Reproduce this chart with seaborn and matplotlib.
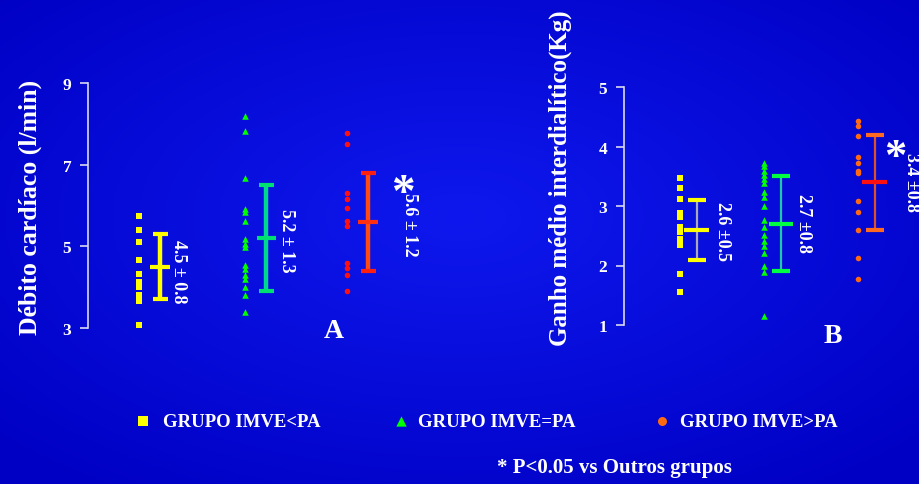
import numpy as np
import pandas as pd
import matplotlib
matplotlib.use("Agg")
import matplotlib.pyplot as plt
import seaborn as sns

sns.set_theme(style="white")
plt.rcParams["font.family"] = ["Liberation Serif", "DejaVu Serif"]
plt.rcParams["font.weight"] = "bold"

# ---- data -------------------------------------------------------------
groups = ["GRUPO IMVE<PA", "GRUPO IMVE=PA", "GRUPO IMVE>PA"]

# Débito cardíaco (l/min)
dc_lt = [5.75, 5.41, 5.11, 4.67, 4.32, 4.13, 4.00, 3.82, 3.65, 3.08]
dc_eq = [8.20, 7.83, 6.68, 5.92, 5.84, 5.63, 5.19, 5.06, 4.98, 4.55,
         4.45, 4.29, 4.20, 4.00, 3.80, 3.39]
dc_gt = [7.78, 7.51, 6.30, 6.15, 5.94, 5.61, 5.51, 4.60, 4.47, 4.30, 3.90]
dc_mean = [4.5, 5.2, 5.6]
dc_sd = [0.8, 1.3, 1.2]
dc_labels = ["4.5 ± 0.8", "5.2 ± 1.3", "5.6 ± 1.2"]

# Ganho médio interdialítico (Kg)
gp_lt = [3.47, 3.30, 3.11, 2.89, 2.81, 2.64, 2.56, 2.45, 2.34, 1.85, 1.55]
gp_eq = [3.73, 3.68, 3.58, 3.52, 3.45, 3.38, 3.24, 3.15, 3.00, 2.77,
         2.64, 2.52, 2.42, 2.33, 2.21, 1.99, 1.89, 1.15]
gp_gt = [4.43, 4.34, 4.18, 3.82, 3.73, 3.59, 3.55, 3.09, 2.90, 2.60,
         2.13, 1.78]
gp_mean = [2.6, 2.7, 3.4]
gp_sd = [0.5, 0.8, 0.8]
gp_labels = ["2.6 ±0.5", "2.7 ±0.8", "3.4 ±0.8"]

# ---- styling ----------------------------------------------------------
W, H = 920, 485
marker_shapes = ["s", "^", "o"]
A_point_colors = ["#ffff00", "#00ff00", "#ff1010"]
A_bar_colors = ["#ffff00", "#00d890", "#ff4a10"]
A_cap_colors = ["#ffff00", "#00e070", "#ff2010"]
A_mean_colors = ["#ffff00", "#00e070", "#ff3010"]
B_point_colors = ["#ffff00", "#00ff00", "#ff6a10"]
B_bar_colors = ["#a8a8b8", "#20c8a8", "#e05028"]
B_cap_colors = ["#ffff00", "#00ff40", "#ff6a20"]
B_mean_colors = ["#ffff00", "#00ff40", "#ff1010"]
TXT = "white"
AXC = "#d8d8f0"

fig = plt.figure(figsize=(W / 100, H / 100), dpi=100)

# blue backdrop, a little brighter towards the middle
bg = fig.add_axes([0, 0, 1, 1], zorder=-5)
yy, xx = np.mgrid[0:1:200j, 0:1:300j]
r = np.sqrt(((xx - 0.5) / 0.7) ** 2 + ((yy - 0.45) / 0.7) ** 2)
t = np.clip(1 - r, 0, 1)
img = np.zeros((200, 300, 3))
img[..., 0] = (0 + 14 * t) / 255
img[..., 1] = (0 + 24 * t) / 255
img[..., 2] = (196 + 42 * t) / 255
bg.imshow(img, extent=[0, 1, 0, 1], aspect="auto", origin="upper")
bg.set_axis_off()


def make_axes(left_px, top_px, right_px, bottom_px):
    ax = fig.add_axes([left_px / W, 1 - bottom_px / H,
                       (right_px - left_px) / W, (bottom_px - top_px) / H])
    ax.set_facecolor("none")
    for s in ["top", "right", "bottom"]:
        ax.spines[s].set_visible(False)
    ax.spines["left"].set_color(AXC)
    ax.spines["left"].set_linewidth(1.2)
    ax.tick_params(axis="y", direction="out", length=6, width=1.2,
                   color=AXC, labelcolor=TXT, labelsize=12.5, pad=6, left=True)
    ax.tick_params(axis="x", bottom=False, labelbottom=False)
    ax.grid(False)
    return ax


def draw_panel(ax, series, pos, off, means, sds, labels, pcolors, bcolors,
               ccolors, mcolors, bar_lw, cap_lw, cap_hw, mean_hw, lab_off,
               lab_y, sizes):
    for i, vals in enumerate(series):
        df = pd.DataFrame({"x": [pos[i]] * len(vals), "y": vals})
        sns.scatterplot(data=df, x="x", y="y", marker=marker_shapes[i],
                        color=pcolors[i], s=sizes[i], linewidth=0, ax=ax,
                        clip_on=False, zorder=3)
        xb = pos[i] + off
        lo, hi = means[i] - sds[i], means[i] + sds[i]
        ax.vlines(xb, lo, hi, color=bcolors[i], lw=bar_lw, zorder=2)
        ax.hlines([lo, hi], xb - cap_hw, xb + cap_hw, color=ccolors[i],
                  lw=cap_lw, zorder=3)
        ax.hlines(means[i], xb - mean_hw, xb + mean_hw, color=mcolors[i],
                  lw=cap_lw, zorder=4)
        ax.text(pos[i] + lab_off[i], lab_y[i], labels[i], rotation=-90,
                ha="center", va="center", color=TXT, fontsize=13,
                fontweight="bold", clip_on=False)
    ax.set_xlabel("")
    ax.set_ylabel("")


# ---- panel A ----------------------------------------------------------
axA = make_axes(88, 84, 440, 329)
posA = [0, 1.02, 2]
axA.set_xlim(-(139 - 88) / 104, (440 - 139) / 104)
axA.set_ylim(3, 9)
axA.set_yticks([3, 5, 7, 9])
axA.set_yticklabels(["3", "5", "7", "9"], fontweight="bold")
draw_panel(axA, [dc_lt, dc_eq, dc_gt], posA, 0.205, dc_mean, dc_sd, dc_labels,
           A_point_colors, A_bar_colors, A_cap_colors, A_mean_colors,
           bar_lw=3.2, cap_lw=3.0, cap_hw=0.075, mean_hw=0.095,
           lab_off=[0.38, 0.40, 0.60], lab_y=[4.4, 5.15, 5.55],
           sizes=[18, 22, 16])
axA.text(2.54, 6.28, "*", color=TXT, fontsize=34, fontweight="bold",
         ha="center", va="center")
axA.text(1.87, 2.95, "A", color=TXT, fontsize=20, fontweight="bold",
         ha="center", va="center", clip_on=False)

# ---- panel B ----------------------------------------------------------
axB = make_axes(624, 88, 918, 326)
posB = [0, 0.945, 2]
axB.set_xlim(-(680 - 624) / 89, (918 - 680) / 89)
axB.set_ylim(1, 5)
axB.set_yticks([1, 2, 3, 4, 5])
axB.set_yticklabels(["1", "2", "3", "4", "5"], fontweight="bold")
draw_panel(axB, [gp_lt, gp_eq, gp_gt], posB, 0.19, gp_mean, gp_sd, gp_labels,
           B_point_colors, B_bar_colors, B_cap_colors, B_mean_colors,
           bar_lw=1.6, cap_lw=3.0, cap_hw=0.1, mean_hw=0.14,
           lab_off=[0.48, 0.44, 0.60], lab_y=[2.58, 2.72, 3.42],
           sizes=[18, 22, 16])
axB.text(2.42, 3.83, "*", color=TXT, fontsize=32, fontweight="bold",
         ha="center", va="center", clip_on=False)
axB.text(1.72, 0.83, "B", color=TXT, fontsize=20, fontweight="bold",
         ha="center", va="center", clip_on=False)

# ---- axis titles ------------------------------------------------------
fig.text(30 / W, 1 - 207 / H, "Débito cardíaco (l/min)", rotation=90,
         ha="center", va="center", color=TXT, fontsize=18.5, fontweight="bold")
fig.text(560 / W, 1 - 178 / H, "Ganho médio interdialítico(Kg)", rotation=90,
         ha="center", va="center", color=TXT, fontsize=18, fontweight="bold")

# ---- group key and footnote -------------------------------------------
key = fig.add_axes([0, 0, 1, 1], zorder=5)
key.set_xlim(0, W)
key.set_ylim(H, 0)
key.set_axis_off()
key_marker_x = [143, 401, 662]
key_text_x = [163, 418, 680]
key_sizes = [45, 55, 42]
for i, g in enumerate(groups):
    key.scatter([key_marker_x[i]], [422], marker=marker_shapes[i],
                color=B_point_colors[i], s=key_sizes[i], linewidths=0)
    key.text(key_text_x[i], 423, g, color=TXT, fontsize=13.5,
             fontweight="bold", ha="left", va="center")
key.text(497, 468, "* P<0.05 vs Outros grupos", color=TXT, fontsize=15,
         fontweight="bold", ha="left", va="center")

fig.savefig("out.png", dpi=100)
